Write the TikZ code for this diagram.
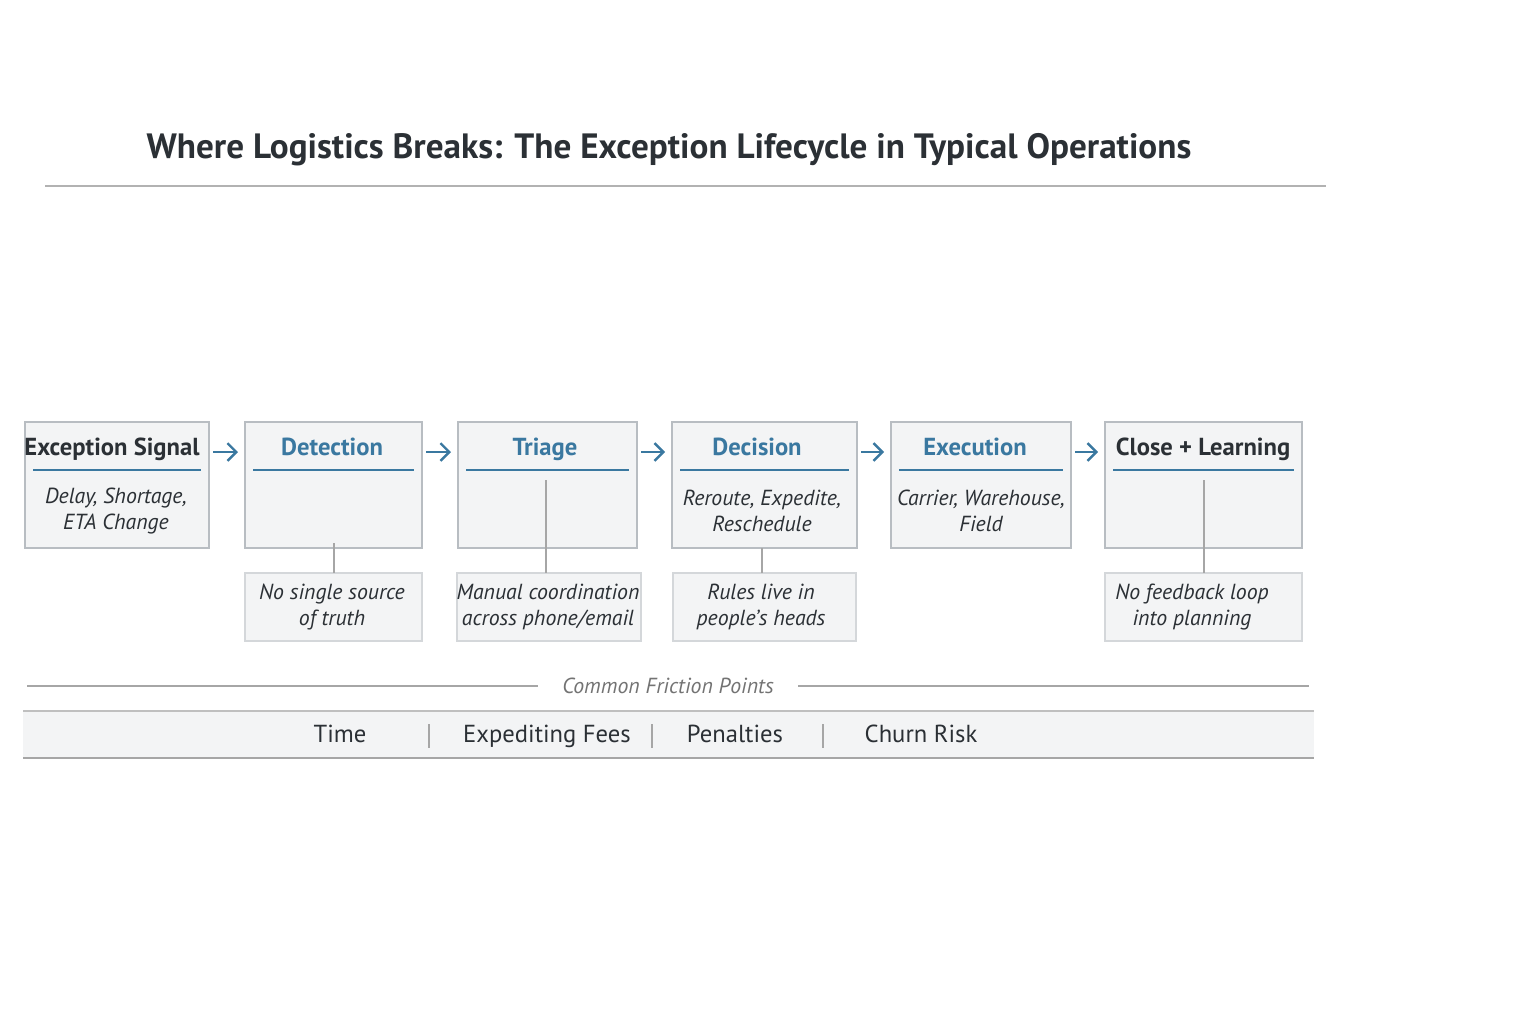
\documentclass[tikz,border=0pt]{standalone}
\usepackage{fontspec}
\setmainfont{PT Sans}
\usetikzlibrary{positioning,arrows.meta}
\definecolor{ink}{HTML}{2B3035}
\definecolor{steel}{HTML}{3A78A0}
\definecolor{edge}{HTML}{B8BDC2}
\definecolor{paper}{HTML}{F3F4F5}
\begin{document}
\begin{tikzpicture}[x=0.01cm,y=-0.01cm,
      stage/.style={draw=edge,fill=paper,line width=0.6pt},
      pain/.style={fill=paper,draw=edge!60,line width=0.4pt},
      head/.style={font=\bfseries\fontsize{7}{8}\selectfont,text=steel,anchor=base},
      dark/.style={head,text=ink},
      body/.style={font=\itshape\fontsize{6.2}{7.6}\selectfont,text=ink,align=center},
      flow/.style={draw=steel,line width=0.7pt,-{Straight Barb[length=2.5pt]}},
      tick/.style={draw=gray!70,line width=0.4pt},
    ]
      \useasboundingbox (0,0) rectangle (1536,1024);
      \node[font=\bfseries\fontsize{10}{11}\selectfont,text=ink] (title) at (669,150)
        {Where Logistics Breaks: The Exception Lifecycle in Typical Operations};
      \draw[gray!60,line width=0.6pt] (45,186) -- (1326,186);
      % stages
      \foreach \name/\xa/\xb in {sig/25/209,det/245/422,tri/458/637,dec/672/857,exe/891/1071,clo/1105/1302}{
        \draw[stage] (\xa,422) rectangle (\xb,548);
        \draw[steel,line width=0.6pt] (\xa+8,470) -- (\xb-8,470);
        \coordinate (\name-l) at (\xa-7,452);
        \coordinate (\name-r) at (\xb+4,452);
      }
      \node[dark] (sigh) at (112,455) {Exception Signal};
      \node[head] (deth) at (332,455) {Detection};
      \node[head] (trih) at (545,455) {Triage};
      \node[head] (dech) at (757,455) {Decision};
      \node[head] (exeh) at (975,455) {Execution};
      \node[dark] (cloh) at (1203,455) {Close + Learning};
      \node[body] (sigb) at (116,511) {Delay, Shortage,\\ETA Change};
      \node[body] (decb) at (762,511) {Reroute, Expedite,\\Reschedule};
      \node[body] (exeb) at (981,511) {Carrier, Warehouse,\\Field};
      \draw[flow] (sig-r) -- (det-l);
      \draw[flow] (det-r) -- (tri-l);
      \draw[flow] (tri-r) -- (dec-l);
      \draw[flow] (dec-r) -- (exe-l);
      \draw[flow] (exe-r) -- (clo-l);
      % friction notes
      \draw[pain] (245,573) rectangle (422,641);
      \draw[pain] (457,573) rectangle (641,641);
      \draw[pain] (673,573) rectangle (856,641);
      \draw[pain] (1105,573) rectangle (1302,641);
      \node[body] (detn) at (332,607) {No single source\\of truth};
      \node[body] (trin) at (548,607) {Manual coordination\\across phone/email};
      \node[body] (decn) at (761,607) {Rules live in\\people’s heads};
      \node[body] (clon) at (1192,607) {No feedback loop\\into planning};
      \draw[tick] (334,543) -- (334,573);
      \draw[tick] (546,480) -- (546,573);
      \draw[tick] (762,548) -- (762,573);
      \draw[tick] (1204,480) -- (1204,573);
      % costs
      \node[body,text=gray!90!black] (fric) at (668,686) {Common Friction Points};
      \draw[gray!70,line width=0.5pt] (27,686) -- ([xshift=-0.12cm]fric.west);
      \draw[gray!70,line width=0.5pt] ([xshift=0.12cm]fric.east) -- (1309,686);
      \draw[fill=paper,draw=none] (23,711) rectangle (1314,758);
      \draw[gray!50,line width=0.5pt] (23,711) -- (1314,711);
      \draw[gray!70,line width=0.6pt] (23,758) -- (1314,758);
      \foreach \lbl/\x in {Time/340,Expediting Fees/547,Penalties/735,Churn Risk/921}
        \node[dark,font=\fontsize{7}{8}\selectfont] at (\x,742) {\lbl};
      \foreach \x in {429,652,823}
        \draw[tick] (\x,724) -- (\x,748);
    \end{tikzpicture}
\end{document}
